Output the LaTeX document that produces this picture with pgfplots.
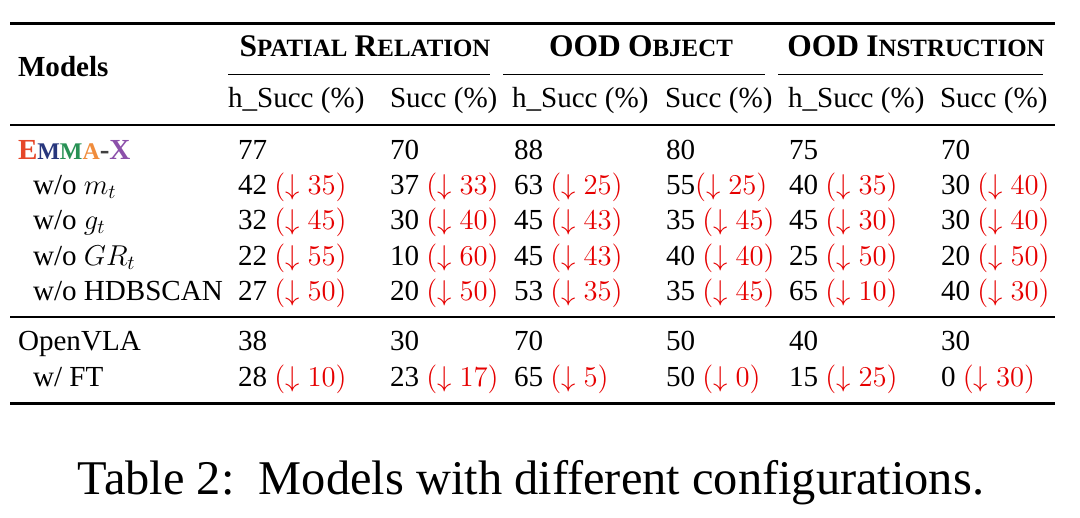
\documentclass[border=0pt]{standalone}
\usepackage{pgfplots}
\pgfplotsset{compat=1.18}
\usepackage{fontspec}
\setmainfont{Liberation Serif}
\definecolor{eR}{RGB}{230,70,40}
\definecolor{eB}{RGB}{40,55,125}
\definecolor{eG}{RGB}{40,145,85}
\definecolor{eO}{RGB}{240,140,60}
\definecolor{eP}{RGB}{140,80,170}
\definecolor{dred}{RGB}{230,0,0}
\newcommand{\tf}{\fontsize{14.6}{18}\selectfont}
\newcommand{\dn}[1]{\textcolor{dred}{$(\downarrow #1)$}}
\newcommand{\hsc}[2]{{\fontsize{15.8}{18}\selectfont\bfseries #1}{\fontsize{12.5}{14}\selectfont\bfseries #2}}
\begin{document}
\begin{tikzpicture}[every node/.style={font=\tf, inner sep=0pt, outer sep=0pt}]
\begin{axis}[
  scale only axis, width=540bp, height=259bp,
  xmin=0, xmax=1080, ymin=0, ymax=518, y dir=reverse,
  hide axis, clip=false,
]
\path (axis cs:0,0) rectangle (axis cs:1080,518);
% rules
\draw[line width=1.5bp] (axis cs:10,24) -- (axis cs:1055,24);
\draw[line width=0.5bp] (axis cs:228,75) -- (axis cs:490,75);
\draw[line width=0.5bp] (axis cs:503,75) -- (axis cs:765,75);
\draw[line width=0.5bp] (axis cs:778,75) -- (axis cs:1043,75);
\draw[line width=0.8bp] (axis cs:10,125) -- (axis cs:1055,125);
\draw[line width=0.8bp] (axis cs:10,317) -- (axis cs:1055,317);
\draw[line width=1.5bp] (axis cs:10,403) -- (axis cs:1055,403);
% header
\node[anchor=base west] at (axis cs:18,76) {\bfseries Models};
\node[anchor=base] at (axis cs:365,57) {\hsc{S}{PATIAL} \hsc{R}{ELATION}};
\node[anchor=base] at (axis cs:641,57) {\hsc{OOD}{} \hsc{O}{BJECT}};
\node[anchor=base] at (axis cs:916,57) {\hsc{OOD}{} \hsc{I}{NSTRUCTION}};
\node[anchor=base west] at (axis cs:228,107) {h\_Succ (\%)};
\node[anchor=base west] at (axis cs:390,107) {Succ (\%)};
\node[anchor=base west] at (axis cs:512,107) {h\_Succ (\%)};
\node[anchor=base west] at (axis cs:665,107) {Succ (\%)};
\node[anchor=base west] at (axis cs:788,107) {h\_Succ (\%)};
\node[anchor=base west] at (axis cs:940,107) {Succ (\%)};
% row labels
\node[anchor=base west] at (axis cs:18,159) {\bfseries\textcolor{eR}{E}{\fontsize{12}{14}\selectfont\textcolor{eB}{M}\textcolor{eG}{M}\textcolor{eO}{A}}\textcolor{black!75}{-}\textcolor{eP}{X}};
\node[anchor=base west] at (axis cs:33,194) {w/o $m_t$};
\node[anchor=base west] at (axis cs:33,229) {w/o $g_t$};
\node[anchor=base west] at (axis cs:33,265) {w/o $GR_t$};
\node[anchor=base west] at (axis cs:33,300) {w/o HDBSCAN};
\node[anchor=base west] at (axis cs:18,350) {OpenVLA};
\node[anchor=base west] at (axis cs:33,386) {w/ FT};
% EMMA-X
\node[anchor=base west] at (axis cs:238,159) {77};
\node[anchor=base west] at (axis cs:390,159) {70};
\node[anchor=base west] at (axis cs:514,159) {88};
\node[anchor=base west] at (axis cs:666,159) {80};
\node[anchor=base west] at (axis cs:789,159) {75};
\node[anchor=base west] at (axis cs:941,159) {70};
% w/o m_t
\node[anchor=base west] at (axis cs:238,194) {42 \dn{35}};
\node[anchor=base west] at (axis cs:390,194) {37 \dn{33}};
\node[anchor=base west] at (axis cs:514,194) {63 \dn{25}};
\node[anchor=base west] at (axis cs:666,194) {55\dn{25}};
\node[anchor=base west] at (axis cs:789,194) {40 \dn{35}};
\node[anchor=base west] at (axis cs:941,194) {30 \dn{40}};
% w/o g_t
\node[anchor=base west] at (axis cs:238,229) {32 \dn{45}};
\node[anchor=base west] at (axis cs:390,229) {30 \dn{40}};
\node[anchor=base west] at (axis cs:514,229) {45 \dn{43}};
\node[anchor=base west] at (axis cs:666,229) {35 \dn{45}};
\node[anchor=base west] at (axis cs:789,229) {45 \dn{30}};
\node[anchor=base west] at (axis cs:941,229) {30 \dn{40}};
% w/o GR_t
\node[anchor=base west] at (axis cs:238,265) {22 \dn{55}};
\node[anchor=base west] at (axis cs:390,265) {10 \dn{60}};
\node[anchor=base west] at (axis cs:514,265) {45 \dn{43}};
\node[anchor=base west] at (axis cs:666,265) {40 \dn{40}};
\node[anchor=base west] at (axis cs:789,265) {25 \dn{50}};
\node[anchor=base west] at (axis cs:941,265) {20 \dn{50}};
% w/o HDBSCAN
\node[anchor=base west] at (axis cs:238,300) {27 \dn{50}};
\node[anchor=base west] at (axis cs:390,300) {20 \dn{50}};
\node[anchor=base west] at (axis cs:514,300) {53 \dn{35}};
\node[anchor=base west] at (axis cs:666,300) {35 \dn{45}};
\node[anchor=base west] at (axis cs:789,300) {65 \dn{10}};
\node[anchor=base west] at (axis cs:941,300) {40 \dn{30}};
% OpenVLA
\node[anchor=base west] at (axis cs:238,350) {38};
\node[anchor=base west] at (axis cs:390,350) {30};
\node[anchor=base west] at (axis cs:514,350) {70};
\node[anchor=base west] at (axis cs:666,350) {50};
\node[anchor=base west] at (axis cs:789,350) {40};
\node[anchor=base west] at (axis cs:941,350) {30};
% w/ FT
\node[anchor=base west] at (axis cs:238,386) {28 \dn{10}};
\node[anchor=base west] at (axis cs:390,386) {23 \dn{17}};
\node[anchor=base west] at (axis cs:514,386) {65 \dn{5}};
\node[anchor=base west] at (axis cs:666,386) {50 \dn{0}};
\node[anchor=base west] at (axis cs:789,386) {15 \dn{25}};
\node[anchor=base west] at (axis cs:941,386) {0 \dn{30}};
% caption
\node[anchor=base, font=\fontsize{24.3}{28}\selectfont] at (axis cs:531,494) {Table 2:\ \ Models with different configurations.};
\end{axis}
\end{tikzpicture}
\end{document}
